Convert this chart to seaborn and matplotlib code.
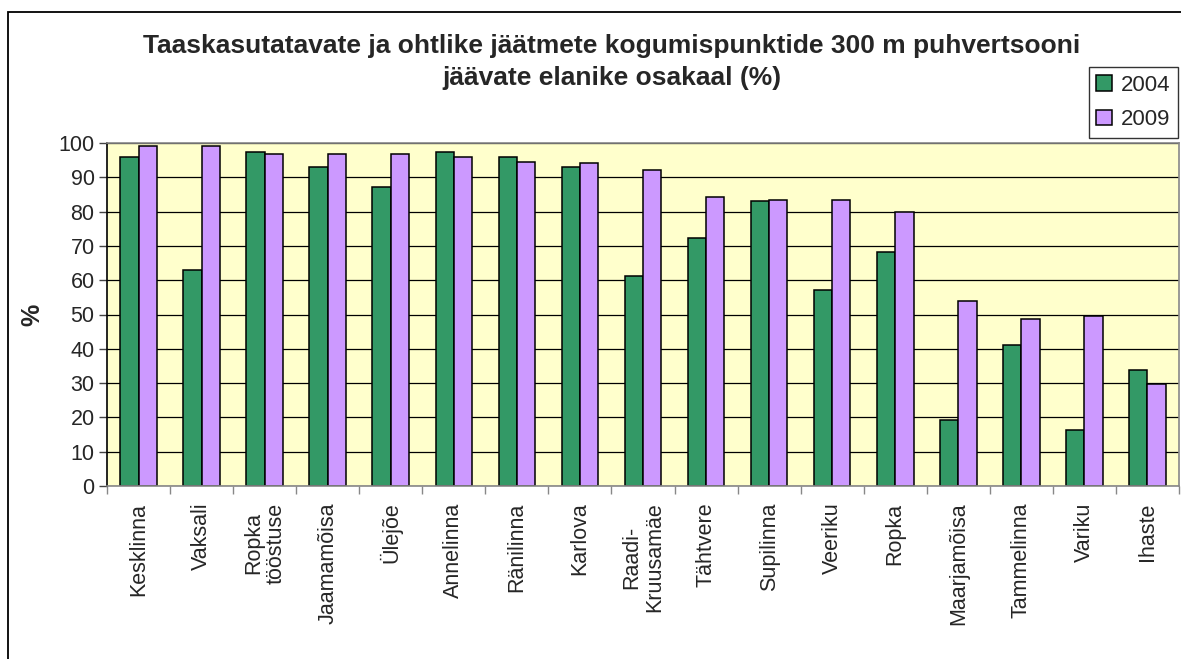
import matplotlib
matplotlib.use("Agg")
import matplotlib.pyplot as plt
import seaborn as sns
import pandas as pd
import numpy as np
from matplotlib.patches import Rectangle
from matplotlib.ticker import FixedLocator

categories = ["Kesklinna", "Vaksali", "Ropka\ntööstuse", "Jaamamõisa", "Ülejõe",
              "Annelinna", "Ränilinna", "Karlova", "Raadi-\nKruusamäe", "Tähtvere",
              "Supilinna", "Veeriku", "Ropka", "Maarjamõisa", "Tammelinna",
              "Variku", "Ihaste"]
values_2004 = [96, 63, 97.3, 93.1, 87.2, 97.3, 95.8, 93.1, 61.2, 72.3,
               83.0, 57.0, 68.1, 19.1, 41.1, 16.2, 33.9]
values_2009 = [99.2, 99.2, 96.9, 96.9, 96.9, 95.9, 94.5, 94.1, 92.1, 84.4,
               83.5, 83.5, 79.8, 53.8, 48.7, 49.5, 29.7]
years = ["2004", "2009"]
title = "Taaskasutatavate ja ohtlike jäätmete kogumispunktide 300 m puhvertsooni\njäävate elanike osakaal (%)"

df = pd.DataFrame({
    "Piirkond": categories * 2,
    "Aasta": [years[0]] * len(categories) + [years[1]] * len(categories),
    "Osakaal": values_2004 + values_2009,
})

sns.set_theme(style="white")
plt.rcParams["font.family"] = ["Liberation Sans", "DejaVu Sans"]

W, H = 1181, 659
fig = plt.figure(figsize=(W / 100, H / 100), dpi=100)
fig.patch.set_facecolor("white")
ax = fig.add_axes([107 / W, 1 - 486 / H, (1179 - 107) / W, (486 - 143) / H])
ax.set_facecolor("#FFFFCC")

sns.barplot(data=df, x="Piirkond", y="Osakaal", hue="Aasta", order=categories,
            hue_order=years, palette=["#339966", "#CC99FF"], width=0.58, gap=0,
            edgecolor="black", linewidth=1.1, saturation=1, ax=ax, legend=True)

ax.set_ylim(0, 100)
ax.set_xlim(-0.5, len(categories) - 0.5)
ax.set_yticks(np.arange(0, 101, 10))
ax.yaxis.grid(True, color="black", linewidth=0.9)
ax.xaxis.grid(False)
ax.set_axisbelow(True)

ax.tick_params(axis="y", which="major", length=6, width=1, color="#444444",
               labelsize=15.5, pad=3, left=True, direction="out")
ax.tick_params(axis="x", which="major", length=0, labelsize=15.5, pad=12)
ax.xaxis.set_minor_locator(FixedLocator(np.arange(-0.5, len(categories), 1.0)))
ax.tick_params(axis="x", which="minor", length=6, width=1, color="#888888",
               bottom=True, direction="out")
for lab in ax.get_xticklabels():
    lab.set_rotation(90)
    lab.set_ha("center")
    lab.set_va("top")
    lab.set_multialignment("center")
    lab.set_linespacing(1.1)

ax.set_xlabel("")
ax.set_ylabel("%", fontsize=18, fontweight="bold", labelpad=10)

for side in ["top", "right", "bottom"]:
    ax.spines[side].set_color("#888888")
    ax.spines[side].set_linewidth(1.2)
ax.spines["left"].set_color("black")
ax.spines["left"].set_linewidth(1.2)

ax.legend(loc="upper right", bbox_to_anchor=(1178 / W, 1 - 67 / H),
          bbox_transform=fig.transFigure, frameon=True, fancybox=False,
          edgecolor="black", fontsize=16, handlelength=0.7, handleheight=0.7,
          handletextpad=0.4, borderpad=0.35, labelspacing=0.6, borderaxespad=0)
ax.get_legend().get_frame().set_linewidth(1.0)

fig.text(612 / W, 1 - 62 / H, title, ha="center", va="center", fontsize=19,
         fontweight="bold", linespacing=1.45)

fig.patches.append(Rectangle((8 / W, -0.05), 1.1, 1 - 12 / H + 0.05,
                             transform=fig.transFigure, fill=False,
                             edgecolor="black", linewidth=1.3, zorder=10))

fig.savefig("out.png", dpi=100)
